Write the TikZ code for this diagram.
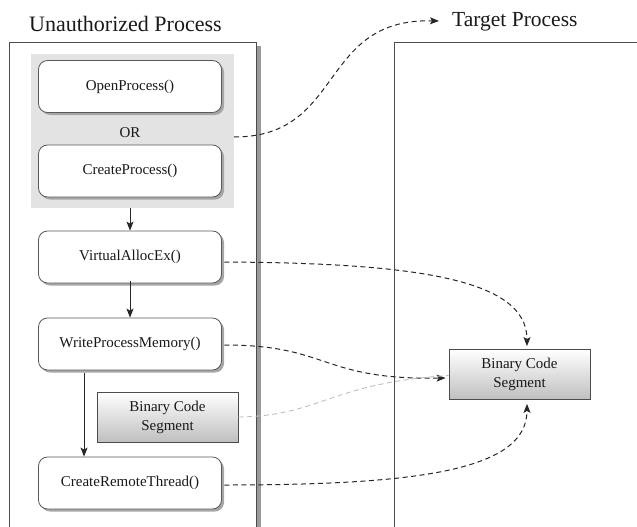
\documentclass[tikz,border=0pt]{standalone}
\usepackage{fontspec}
\setmainfont{Liberation Serif}
\usetikzlibrary{arrows.meta,shadows,calc}
\begin{document}
\begin{tikzpicture}[x=1pt,y=-1pt,
  fn/.style={draw=black!65, line width=0.8pt, rounded corners=9pt, fill=white, minimum width=183pt, minimum height=52pt, inner sep=0pt, font=\fontsize{15}{18}\selectfont, text=black!90, drop shadow={shadow xshift=2.5pt, shadow yshift=-2.5pt, fill=black!35, opacity=1}},
  seg/.style={draw=black!70, line width=0.8pt, top color=white, bottom color=black!25, minimum width=141pt, minimum height=50pt, inner sep=0pt, align=center, font=\fontsize{15}{19}\selectfont, text=black!90},
  arr/.style={draw=black!85, line width=1pt, -{Stealth[length=9pt,width=7pt,inset=2pt]}},
  dsh/.style={arr, dash pattern=on 5pt off 3.5pt},
  ttl/.style={font=\fontsize{22}{26}\selectfont, text=black!90, inner sep=0pt},
  proc/.style={draw=black!70, line width=0.9pt}
]
\useasboundingbox (0,0) rectangle (637,527);

% process frames
\fill[black!40] (256,46) rectangle (261,527);
\draw[proc] (9.5,527) -- (9.5,42) -- (256,42) -- (256,527);
\draw[proc] (394,527) -- (394,42) -- (637,42);

\node[ttl, anchor=base west] (title1) at (29,32) {Unauthorized Process};
\node[ttl, anchor=base west, font=\fontsize{21.5}{26}\selectfont] (title2) at (452,27) {Target Process};

% grey panel
\node[fill=black!11, minimum width=203pt, minimum height=154pt, inner sep=0pt] (panel) at (132.5,131) {};

\node[fn] (open) at (130,86.5) {OpenProcess()};
\node[font=\fontsize{15}{18}\selectfont, text=black!90, inner sep=0pt] (or) at (130,133) {OR};
\node[fn] (create) at (130,171) {CreateProcess()};
\node[fn] (virt) at (130,257) {VirtualAllocEx()};
\node[fn] (wpm) at (130,344) {WriteProcessMemory()};
\node[fn] (crt) at (130,483) {CreateRemoteThread()};

\node[seg] (bcs1) at (167.5,417) {Binary Code\\Segment};
\node[seg] (bcs2) at (519.5,374.5) {Binary Code\\Segment};

% solid arrows
\draw[arr] (virt.north |- panel.south) -- (virt.north);
\draw[arr] (virt.south) ++(0,-2.5) -- (wpm.north);
\coordinate (wq) at ($(wpm.south west)!0.25!(wpm.south east)$);
\coordinate (cq) at ($(crt.north west)!0.25!(crt.north east)$);
\draw[arr] ([yshift=-2.5pt]wq) -- (cq);

% dashed connectors
\draw[dsh] ([yshift=-6pt]panel.east) .. controls (345,137) and (318,18) .. ([xshift=-13pt,yshift=6pt]title2.base west);
\draw[dsh] ([xshift=2.5pt,yshift=-5pt]virt.east) .. controls (420,263) and (527,280) .. ([xshift=7.5pt,yshift=3pt]bcs2.north);
\draw[dsh] ([xshift=2.5pt,yshift=-1pt]wpm.east) .. controls (330,345) and (320,380) .. ([xshift=-3pt,yshift=-3.5pt]bcs2.west);
\draw[black!25, line width=0.9pt, dash pattern=on 5pt off 3.5pt] (bcs1.east) .. controls (320,416) and (330,383) .. ([yshift=-1pt]bcs2.west);
\draw[dsh] ([xshift=2.5pt,yshift=-2pt]crt.east) .. controls (420,485) and (527,470) .. ([xshift=7.5pt,yshift=-4pt]bcs2.south);
\end{tikzpicture}
\end{document}
